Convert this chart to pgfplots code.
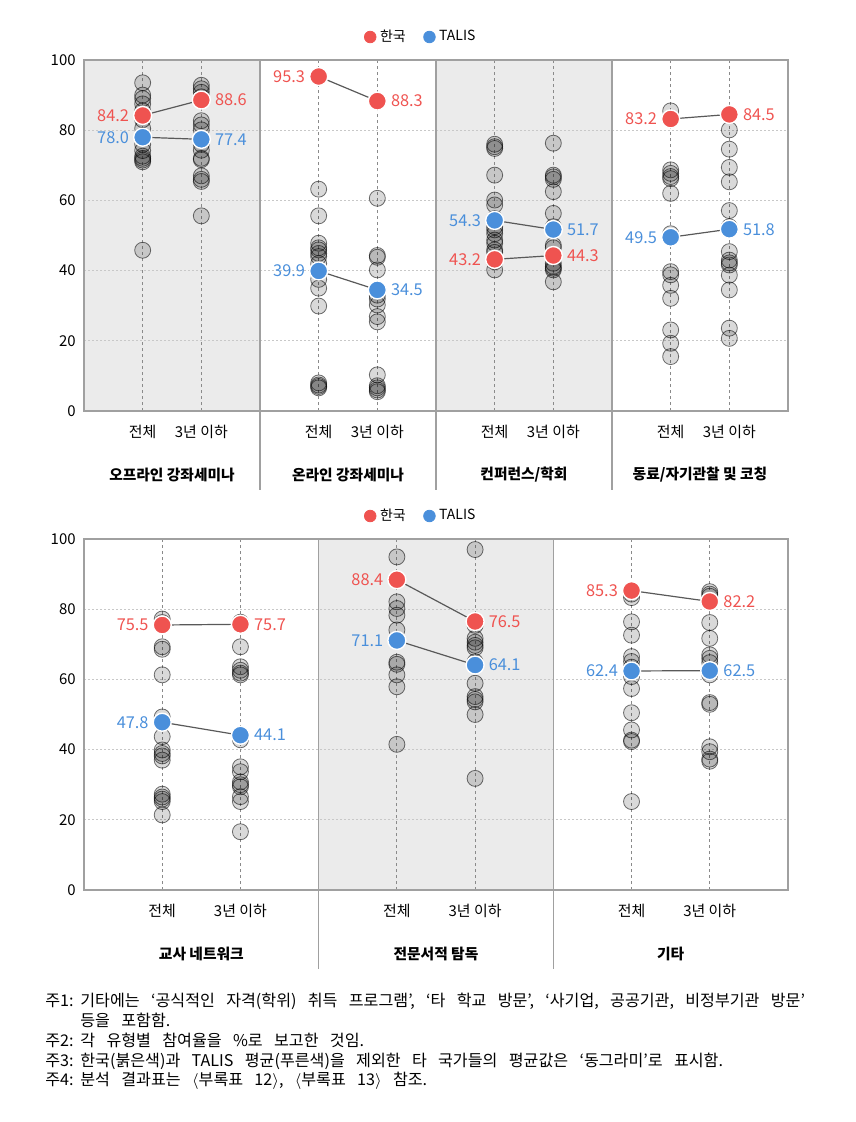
\documentclass[border=0pt]{standalone}
\usepackage{fontspec}
\setmainfont{Noto Sans CJK KR}
\usepackage{pgfplots}
\usepackage{pgfplotstable}
\pgfplotsset{compat=1.18}
\definecolor{kred}{HTML}{EF5350}
\definecolor{tblue}{HTML}{4A8FDB}
\definecolor{bgshade}{HTML}{EBEBEB}
\definecolor{frm}{HTML}{A0A0A0}
\definecolor{vgrid}{HTML}{8A8A8A}
\definecolor{hgrid}{HTML}{C8C8C8}
\newcommand\nt[1]{\fontsize{8.1}{8}\selectfont\spaceskip=0.7em plus 0.1em\relax #1}

\pgfplotstableread{
x y
1 93.5
1 90.0
1 89.0
1 87.5
1 85.5
1 83.0
1 80.5
1 76.0
1 74.2
1 72.6
1 72.0
1 71.5
1 71.0
1 45.8
2 92.8
2 91.8
2 90.8
2 89.5
2 82.7
2 81.5
2 80.1
2 76.0
2 74.3
2 72.0
2 71.6
2 67.0
2 66.0
2 65.4
2 55.6
4 63.2
4 55.6
4 47.8
4 46.5
4 45.9
4 44.9
4 44.0
4 42.0
4 37.5
4 35.0
4 29.9
4 8.0
4 7.4
4 7.0
4 6.6
5 60.6
5 44.3
5 43.8
5 40.2
5 33.0
5 31.9
5 30.2
5 26.9
5 25.4
5 10.3
5 7.2
5 6.6
5 6.0
5 5.5
7 76.0
7 75.3
7 74.8
7 67.2
7 60.1
7 58.7
7 54.8
7 52.5
7 51.6
7 50.5
7 48.7
7 47.8
7 45.9
7 45.2
7 42.5
7 40.2
8 76.3
8 67.2
8 66.7
8 66.0
8 62.5
8 56.3
8 52.5
8 47.2
8 46.5
8 42.1
8 41.2
8 40.7
8 40.2
8 36.8
10 85.5
10 68.7
10 67.7
10 66.8
10 66.2
10 62.0
10 50.5
10 39.7
10 38.8
10 35.8
10 32.1
10 23.1
10 19.3
10 15.5
11 80.1
11 74.6
11 69.4
11 65.3
11 57.1
11 52.5
11 45.4
11 43.0
11 42.2
11 41.6
11 38.7
11 34.5
11 23.6
11 20.7
}\topgray

\pgfplotstableread{
x y
1 77.2
1 76.2
1 69.3
1 68.6
1 61.3
1 49.3
1 43.7
1 39.9
1 38.9
1 38.2
1 37.0
1 27.3
1 26.5
1 25.9
1 25.2
1 21.4
2 76.3
2 69.3
2 63.6
2 62.6
2 61.8
2 61.3
2 42.8
2 35.1
2 33.7
2 30.8
2 30.0
2 29.4
2 26.6
2 25.2
2 16.6
4 94.9
4 82.1
4 80.2
4 78.3
4 74.1
4 64.9
4 64.3
4 61.3
4 57.9
4 41.5
5 97.0
5 75.4
5 71.7
5 70.6
5 69.7
5 69.0
5 65.0
5 58.9
5 55.1
5 54.3
5 53.6
5 50.0
5 31.8
7 84.3
7 83.3
7 76.4
7 72.6
7 66.5
7 65.1
7 63.5
7 60.8
7 57.4
7 50.5
7 45.6
7 42.7
7 42.3
7 25.2
8 85.0
8 84.3
8 83.7
8 76.2
8 71.7
8 67.0
8 66.0
8 64.8
8 61.3
8 53.4
8 52.9
8 40.8
8 39.4
8 37.3
8 36.7
}\botgray

\tikzset{
  hg/.style={hgrid, line width=0.5bp, dash pattern=on 0.8bp off 1.2bp},
  vg/.style={vgrid, line width=0.45bp, dash pattern=on 1.6bp off 1.4bp},
  sep/.style={frm, line width=0.6bp},
  gname/.style={font=\fontsize{7.4}{8}\selectfont\bfseries, inner sep=0pt},
}

\pgfplotsset{
  /pgf/number format/assume math mode=true,
  panel/.style={
    scale only axis, width=352bp, height=175.5bp,
    ymin=0, ymax=100, ytick={0,20,40,60,80,100},
    axis on top, clip=false,
    axis line style={draw=frm, line width=0.6bp},
    major tick length=0pt, tick style={draw=none},
    ticklabel style={font=\fontsize{7.5}{8}\selectfont, text=black},
    yticklabel style={inner sep=0pt, xshift=-4bp},
    xticklabel style={anchor=center, inner sep=0pt, yshift=-10.5bp},
    legend columns=2,
    legend style={draw=none, fill=none, at={(0.48,1)}, anchor=center, yshift=11.5bp,
      font=\fontsize{7}{8}\selectfont,
      /tikz/every even column/.append style={column sep=7bp}},
    legend image code/.code={\draw[##1] plot coordinates {(0bp,0bp)};},
  },
  gpts/.style={forget plot, only marks, mark=*, mark size=4bp,
    mark options={fill=black, fill opacity=0.15, draw=black, draw opacity=0.55, line width=0.4bp}},
  conn/.style={forget plot, no marks, draw=black!65, line width=0.6bp, unbounded coords=jump},
  kmk/.style={forget plot, only marks, mark=*, mark size=4.5bp,
    mark options={fill=kred, draw=white, line width=0.7bp}},
  tmk/.style={forget plot, only marks, mark=*, mark size=4.5bp,
    mark options={fill=tblue, draw=white, line width=0.7bp}},
  lab/.style n args={3}{nodes near coords={\pgfmathprintnumber[fixed,fixed zerofill,precision=1]{\pgfplotspointmeta}},
    point meta=y,
    every node near coord/.append style={anchor=#1, xshift=#3, text=#2, inner sep=0pt,
      font=\fontsize{8.2}{8}\selectfont}},
}

\begin{document}
\begin{tikzpicture}
\path[use as bounding box] (0,0) rectangle (428bp,-561bp);

% ---------------- top panel ----------------
\begin{axis}[panel, at={(42bp,-205.5bp)}, anchor=south west,
  xmin=0, xmax=12, xtick={1,2,4,5,7,8,10,11},
  xticklabels={전체,3년 이하,전체,3년 이하,전체,3년 이하,전체,3년 이하}]
  \fill[bgshade] (0,0) rectangle (3,100);
  \fill[bgshade] (6,0) rectangle (9,100);
  \pgfplotsinvokeforeach{20,40,60,80}{\draw[hg] (0,#1) -- (12,#1);}
  \pgfplotsinvokeforeach{1,2,4,5,7,8,10,11}{\draw[vg] (#1,0) -- (#1,100);}
  \pgfplotsinvokeforeach{3,6,9}{\draw[sep] (#1,100) -- (#1,-22.5);}
  \addplot[gpts] table[x=x,y=y]{\topgray};
  \addplot[conn] coordinates {(1,84.2)(2,88.6)(3,nan)(4,95.3)(5,88.3)(6,nan)(7,43.2)(8,44.3)(9,nan)(10,83.2)(11,84.5)};
  \addplot[conn] coordinates {(1,78.0)(2,77.4)(3,nan)(4,39.9)(5,34.5)(6,nan)(7,54.3)(8,51.7)(9,nan)(10,49.5)(11,51.8)};
  \addplot[tmk, lab={east}{tblue}{-6.5bp}] coordinates {(1,78.0)(4,39.9)(7,54.3)(10,49.5)};
  \addplot[tmk, lab={west}{tblue}{6.5bp}] coordinates {(2,77.4)(5,34.5)(8,51.7)(11,51.8)};
  \addplot[kmk, lab={east}{kred}{-6.5bp}] coordinates {(1,84.2)(4,95.3)(7,43.2)(10,83.2)};
  \addplot[kmk, lab={west}{kred}{6.5bp}] coordinates {(2,88.6)(5,88.3)(8,44.3)(11,84.5)};
  \addlegendimage{only marks, mark=*, mark size=2.9bp, kred}
  \addlegendentry{한국}
  \addlegendimage{only marks, mark=*, mark size=2.9bp, tblue}
  \addlegendentry{TALIS}
  \node[gname] at (1.5,-18.2) {오프라인 강좌세미나};
  \node[gname] at (4.5,-18.2) {온라인 강좌세미나};
  \node[gname] at (7.5,-18.2) {컨퍼런스/학회};
  \node[gname] at (10.5,-18.2) {동료/자기관찰 및 코칭};
\end{axis}

% ---------------- bottom panel ----------------
\begin{axis}[panel, at={(42bp,-445bp)}, anchor=south west,
  xmin=0, xmax=9, xtick={1,2,4,5,7,8},
  xticklabels={전체,3년 이하,전체,3년 이하,전체,3년 이하}]
  \fill[bgshade] (3,0) rectangle (6,100);
  \pgfplotsinvokeforeach{20,40,60,80}{\draw[hg] (0,#1) -- (9,#1);}
  \pgfplotsinvokeforeach{1,2,4,5,7,8}{\draw[vg] (#1,0) -- (#1,100);}
  \pgfplotsinvokeforeach{3,6}{\draw[sep] (#1,100) -- (#1,-22.5);}
  \addplot[gpts] table[x=x,y=y]{\botgray};
  \addplot[conn] coordinates {(1,75.5)(2,75.7)(3,nan)(4,88.4)(5,76.5)(6,nan)(7,85.3)(8,82.2)};
  \addplot[conn] coordinates {(1,47.8)(2,44.1)(3,nan)(4,71.1)(5,64.1)(6,nan)(7,62.4)(8,62.5)};
  \addplot[tmk, lab={east}{tblue}{-6.5bp}] coordinates {(1,47.8)(4,71.1)(7,62.4)};
  \addplot[tmk, lab={west}{tblue}{6.5bp}] coordinates {(2,44.1)(5,64.1)(8,62.5)};
  \addplot[kmk, lab={east}{kred}{-6.5bp}] coordinates {(1,75.5)(4,88.4)(7,85.3)};
  \addplot[kmk, lab={west}{kred}{6.5bp}] coordinates {(2,75.7)(5,76.5)(8,82.2)};
  \addlegendimage{only marks, mark=*, mark size=2.9bp, kred}
  \addlegendentry{한국}
  \addlegendimage{only marks, mark=*, mark size=2.9bp, tblue}
  \addlegendentry{TALIS}
  \node[gname] at (1.5,-18.2) {교사 네트워크};
  \node[gname] at (4.5,-18.2) {전문서적 탐독};
  \node[gname] at (7.5,-18.2) {기타};
\end{axis}

% ---------------- notes ----------------
\begin{scope}[every node/.style={anchor=base west, inner sep=0pt}]
  \node at (22.5bp,-503bp) {\nt{주1:}};
  \node at (40bp,-503bp) {\nt{기타에는 ‘공식적인 자격(학위) 취득 프로그램’, ‘타 학교 방문’, ‘사기업, 공공기관, 비정부기관 방문’}};
  \node at (40bp,-513bp) {\nt{등을 포함함.}};
  \node at (22.5bp,-523bp) {\nt{주2:}};
  \node at (40bp,-523bp) {\nt{각 유형별 참여율을 \%로 보고한 것임.}};
  \node at (22.5bp,-533bp) {\nt{주3:}};
  \node at (40bp,-533bp) {\nt{한국(붉은색)과 TALIS 평균(푸른색)을 제외한 타 국가들의 평균값은 ‘동그라미’로 표시함.}};
  \node at (22.5bp,-542.5bp) {\nt{주4:}};
  \node at (40bp,-542.5bp) {\nt{분석 결과표는 $\langle$부록표 12$\rangle$, $\langle$부록표 13$\rangle$ 참조.}};
\end{scope}
\end{tikzpicture}
\end{document}
